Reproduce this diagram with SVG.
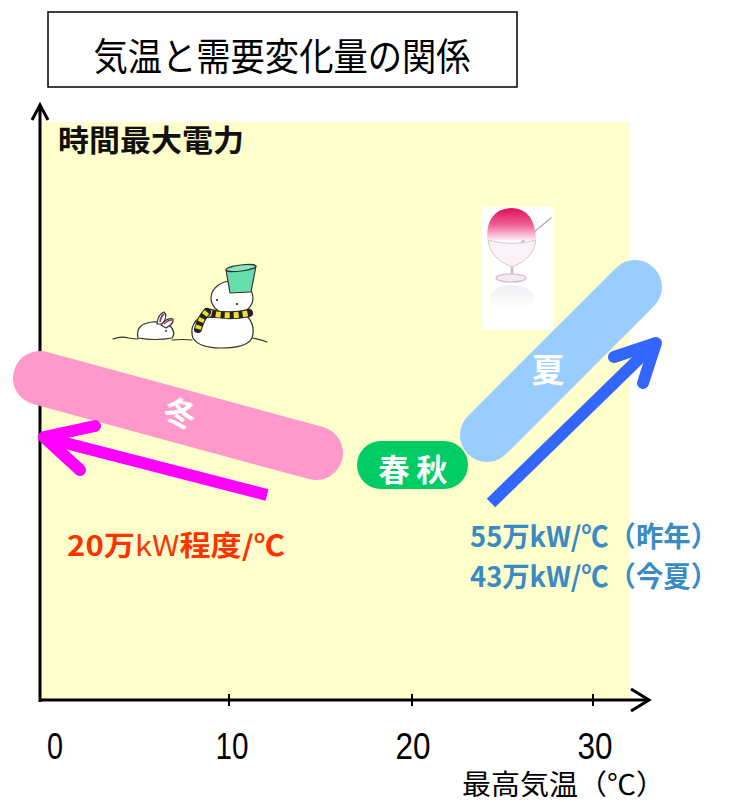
<svg xmlns="http://www.w3.org/2000/svg" width="738" height="802" viewBox="0 0 738 802">
  <style>
    .jp { font-family: "Noto Sans CJK JP", "Liberation Sans", sans-serif; }
    .num { font-family: "Liberation Sans", "Noto Sans CJK JP", sans-serif; }
    .axis { stroke: #000; stroke-width: 3; fill: none; }
    .ink { stroke: #333; stroke-width: 1.2; stroke-linejoin: round; stroke-linecap: round; }
    .band-label { fill: #fff; font-weight: 700; text-anchor: middle; }
  </style>
  <defs>
    <linearGradient id="syrup" x1="0" y1="0" x2="0" y2="1">
      <stop offset="0" stop-color="#E0105A"/>
      <stop offset="0.5" stop-color="#EE5A92"/>
      <stop offset="1" stop-color="#FCEAF2"/>
    </linearGradient>
    <linearGradient id="mirror" x1="0" y1="0" x2="0" y2="1">
      <stop offset="0" stop-color="#ECE8EE"/>
      <stop offset="1" stop-color="#FFFFFF"/>
    </linearGradient>
  </defs>

  <rect width="738" height="802" fill="#fff"/>

  <!-- title -->
  <g id="title">
    <rect x="48" y="12" width="469" height="75" fill="#fff" stroke="#000" stroke-width="1.5"/>
    <text class="jp" x="282" y="70" font-size="38" text-anchor="middle" textLength="377" lengthAdjust="spacingAndGlyphs">気温と需要変化量の関係</text>
  </g>

  <!-- plot area -->
  <rect id="plot-area" x="40" y="122" width="590" height="578" fill="#FFFFCC"/>

  <!-- axes -->
  <g id="axes">
    <line class="axis" x1="40" y1="702" x2="40" y2="106"/>
    <polyline class="axis" points="32,120 40,105 48,120" stroke-linejoin="miter"/>
    <line class="axis" x1="40" y1="700" x2="648" y2="700"/>
    <polyline class="axis" points="631,689 649,700 631,711"/>
    <line x1="229" y1="694" x2="229" y2="706" stroke="#000" stroke-width="2"/>
    <line x1="412" y1="694" x2="412" y2="706" stroke="#000" stroke-width="2"/>
    <line x1="593" y1="694" x2="593" y2="706" stroke="#000" stroke-width="2"/>
    <g class="num" font-size="36" fill="#000" text-anchor="middle">
      <text x="55" y="759" textLength="16" lengthAdjust="spacingAndGlyphs">0</text>
      <text x="232" y="759" textLength="33" lengthAdjust="spacingAndGlyphs">10</text>
      <text x="413" y="759" textLength="35" lengthAdjust="spacingAndGlyphs">20</text>
      <text x="595" y="759" textLength="35" lengthAdjust="spacingAndGlyphs">30</text>
    </g>
    <text class="jp" x="462" y="795" font-size="28" textLength="203" lengthAdjust="spacingAndGlyphs">最高気温（℃）</text>
    <text class="jp" x="58" y="151" font-size="30" font-weight="700" fill="#111" textLength="186" lengthAdjust="spacingAndGlyphs">時間最大電力</text>
  </g>

  <!-- snowman and rabbit -->
  <g id="snow-scene">
    <path class="ink" fill="none" d="M113,339 q8,-3 16,-1 q5,1 9,1 M172,340 q10,-1 20,0 M252,338 q8,1 15,4"/>
    <!-- rabbit -->
    <path class="ink" fill="#fff" d="M138,338 q-3,-14 14,-16 q12,-1 19,5 q5,6 1,11 q-17,3 -34,0 z"/>
    <path class="ink" fill="#fff" d="M157,324 q1,-10 7,-12 q4,3 -1,12 z"/>
    <path class="ink" fill="#fff" d="M161,325 q6,-8 12,-6 q1,5 -7,9 z"/>
    <path d="M160,322 q1,-6 4,-8" stroke="#8A3A6A" stroke-width="1.8" fill="none"/>
    <path d="M164,324 q4,-4 8,-4" stroke="#8A3A6A" stroke-width="1.6" fill="none"/>
    <circle cx="166" cy="331" r="1" fill="#333"/>
    <!-- snowman body -->
    <path class="ink" fill="#fff" d="M199,318 q-10,8 -6,20 q6,10 28,10 q26,0 31,-10 q4,-12 -5,-22 z"/>
    <!-- head -->
    <ellipse class="ink" fill="#fff" cx="232" cy="298" rx="21" ry="17"/>
    <circle cx="217" cy="300" r="1.1" fill="#222"/>
    <circle cx="237" cy="304" r="1.1" fill="#222"/>
    <!-- scarf -->
    <path d="M207,312 q20,6 42,1" stroke="#222" stroke-width="8" fill="none" stroke-linecap="round"/>
    <path d="M207,312 q20,6 42,1" stroke="#F2E030" stroke-width="6" fill="none" stroke-dasharray="5 4"/>
    <path d="M207,312 q-6,6 -9,17" stroke="#222" stroke-width="8" fill="none" stroke-linecap="round"/>
    <path d="M207,312 q-6,6 -9,17" stroke="#F2E030" stroke-width="6" fill="none" stroke-dasharray="4 4"/>
    <!-- bucket hat -->
    <path class="ink" fill="#66DDAA" d="M226,270 L256,266 L251,292 L230,293 z"/>
    <ellipse class="ink" fill="#88E8BE" cx="241" cy="268" rx="15" ry="3" transform="rotate(-7 241 268)"/>
  </g>

  <!-- shaved ice -->
  <g id="shaved-ice">
    <rect x="482" y="207" width="72" height="123" fill="#fff"/>
    <path d="M522,242 L551,218" stroke="#B8B0B8" stroke-width="1.6" stroke-linecap="round"/>
    <path d="M487,240 q-1,-31 25,-32 q23,1 24,32 z" fill="url(#syrup)"/>
    <path d="M488,240 q24,7 48,0 q-2,19 -24,27 q-22,-8 -24,-27 z" fill="#FBF3F7" stroke="#D8C4D2" stroke-width="1"/>
    <path d="M512,267 L512,276" stroke="#D0BECC" stroke-width="3"/>
    <ellipse cx="511" cy="278" rx="15" ry="4" fill="#F2EAF0" stroke="#CDBBC9" stroke-width="1.2"/>
    <ellipse cx="512" cy="298" rx="22" ry="13" fill="url(#mirror)" opacity="0.7"/>
  </g>

  <!-- seasonal bands -->
  <g id="winter">
    <line x1="40" y1="378" x2="316" y2="453" stroke="#FF99CC" stroke-width="54" stroke-linecap="round"/>
    <text class="jp band-label" x="180" y="425" font-size="32" transform="rotate(15 180 413)">冬</text>
  </g>
  <g id="summer">
    <line x1="487" y1="435" x2="635" y2="287" stroke="#99CCFF" stroke-width="54" stroke-linecap="round"/>
    <text class="jp band-label" x="548" y="382" font-size="33">夏</text>
  </g>
  <g id="spring-autumn">
    <rect x="357" y="441" width="111" height="48" rx="24" fill="#00CC66"/>
    <text class="jp band-label" x="413" y="481" font-size="31">春 秋</text>
  </g>

  <!-- trend arrows -->
  <g id="connectors" fill="none" stroke-width="12" stroke-linecap="round" stroke-linejoin="round">
    <g stroke="#FF00FF">
      <line x1="267" y1="495" x2="50" y2="439" stroke-linecap="butt"/>
      <polyline points="95,426 44,437 80,470"/>
    </g>
    <g stroke="#3366FF">
      <line x1="491" y1="503" x2="650" y2="348" stroke-linecap="butt"/>
      <polyline points="614,357 656,343 643,383"/>
    </g>
  </g>

  <!-- slope labels -->
  <g id="labels" class="jp" font-weight="700">
    <text x="67" y="556" font-size="28" fill="#FF3300" textLength="218" lengthAdjust="spacingAndGlyphs">20万<tspan font-weight="400">kW</tspan>程度/℃</text>
    <text x="470" y="547" font-size="28" fill="#3A8AC4" textLength="248" lengthAdjust="spacingAndGlyphs">55万kW/℃（昨年）</text>
    <text x="470" y="587" font-size="28" fill="#3A8AC4" textLength="248" lengthAdjust="spacingAndGlyphs">43万kW/℃（今夏）</text>
  </g>
</svg>
